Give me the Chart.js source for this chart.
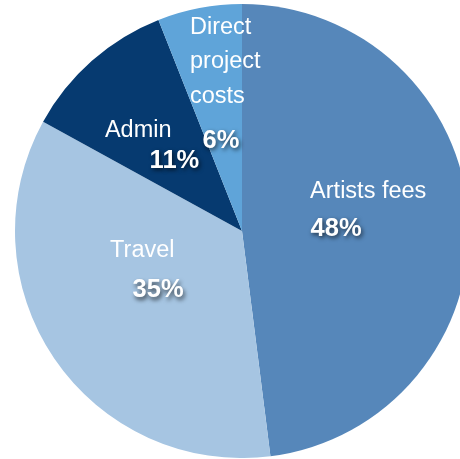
<!DOCTYPE html>
<html>
<head>
<meta charset="utf-8">
<script src="https://cdn.jsdelivr.net/npm/chart.js@4/dist/chart.umd.min.js"></script>
<style>
  html, body { margin: 0; padding: 0; background: #fff; overflow: hidden; width: 460px; height: 459px; }
  #wrap { position: absolute; left: 0; top: 4px; width: 484px; height: 454px; }
</style>
</head>
<body>
<div id="wrap"><canvas id="c" width="484" height="454"></canvas></div>
<script>
// Data
const categories = ["Artists fees", "Travel", "Admin", "Direct project costs"];
const labelLines = [["Artists fees"], ["Travel"], ["Admin"], ["Direct", "project", "costs"]];
const values = [48, 35, 11, 6];

// Styles
const sliceColors = ["#5687ba", "#a6c5e2", "#063a70", "#5fa4d9"];
// label placement (relative to pie center, in units of radius)
const nameOffsets = [[0.300, -0.145], [-0.581, 0.115], [-0.604, -0.414], [-0.229, -0.868]];
const pctOffsets  = [[0.302, 0.022], [-0.482, 0.291], [-0.407, -0.278], [-0.174, -0.366]];
const lineStep = 0.152;

const labelPlugin = {
  id: 'sliceLabels',
  afterDatasetsDraw(chart) {
    const ctx = chart.ctx;
    const meta = chart.getDatasetMeta(0);
    const total = values.reduce((a, b) => a + b, 0);
    meta.data.forEach((arc, i) => {
      const cx = arc.x, cy = arc.y, R = arc.outerRadius;
      ctx.save();
      ctx.fillStyle = '#ffffff';
      ctx.textAlign = 'left';
      ctx.textBaseline = 'alphabetic';
      ctx.font = '23.5px "Liberation Sans", Arial, sans-serif';
      labelLines[i].forEach((line, k) => {
        ctx.fillText(line, cx + nameOffsets[i][0] * R, cy + (nameOffsets[i][1] + k * lineStep) * R);
      });
      ctx.font = 'bold 25.5px "Liberation Sans", Arial, sans-serif';
      ctx.shadowColor = 'rgba(0,0,0,0.65)';
      ctx.shadowBlur = 4;
      ctx.shadowOffsetX = 1.5;
      ctx.shadowOffsetY = 2.5;
      const pct = Math.round(values[i] / total * 100) + '%';
      ctx.fillText(pct, cx + pctOffsets[i][0] * R, cy + pctOffsets[i][1] * R);
      ctx.restore();
    });
  }
};

new Chart(document.getElementById('c'), {
  type: 'pie',
  data: {
    labels: categories,
    datasets: [{
      data: values,
      backgroundColor: sliceColors,
      borderWidth: 0,
      hoverOffset: 0
    }]
  },
  options: {
    responsive: false,
    devicePixelRatio: 1,
    animation: false,
    layout: { padding: 0 },
    plugins: {
      legend: { display: false },
      tooltip: { enabled: false },
      title: { display: false }
    }
  },
  plugins: [labelPlugin]
});
</script>
</body>
</html>
